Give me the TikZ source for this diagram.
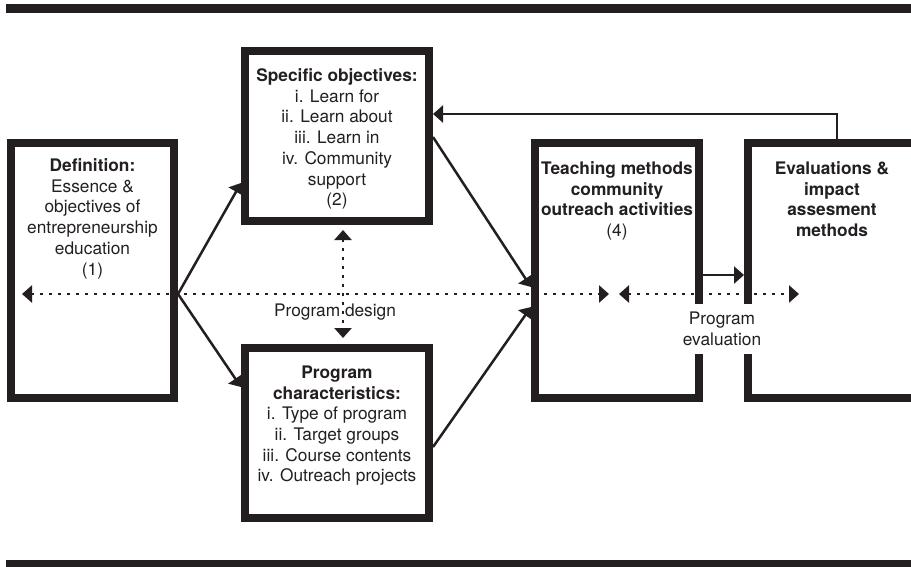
\documentclass[tikz,border=0pt]{standalone}
\usepackage{fontspec}
\setmainfont{TeX Gyre Heros}
\usetikzlibrary{arrows.meta,calc}
\definecolor{ink}{RGB}{35,31,32}
\tikzset{
  headtri/.tip={Triangle[length=10pt,width=17pt]},
  box/.style={rectangle,draw=ink,line width=8pt,fill=white,inner sep=0pt},
  boxtext/.style={anchor=north,align=center,inner sep=0pt,text=ink,
    font=\fontsize{17.3}{20.7}\selectfont},
  plaintext/.style={align=center,inner sep=0pt,text=ink,
    font=\fontsize{17.3}{20.7}\selectfont},
  ln/.style={draw=ink,line width=2.5pt},
  dots/.style={draw=ink,line width=2.5pt,dash pattern=on 2.5pt off 6.5pt},
}
\begin{document}
\begin{tikzpicture}[x=1pt,y=-1pt]
\useasboundingbox (0,0) rectangle (911,566);
\clip (0,0) rectangle (911,566);

% rules above and below
\fill[ink] (6,4) rectangle (920,13);
\fill[ink] (6,560) rectangle (920,572);

% boxes
\node[box,minimum width=163pt,minimum height=255pt] (b1) at (92.5,270.5) {};
\node[box,minimum width=184pt,minimum height=170pt] (b2) at (337,136) {};
\node[box,minimum width=184pt,minimum height=170pt] (b3) at (337,433) {};
\node[box,minimum width=164pt,minimum height=255pt] (b4) at (617,270.5) {};
\node[box,minimum width=168pt,minimum height=255pt] (b5) at (832,270.5) {};

% box texts
\node[boxtext] (t1) at (92.5,158.5) {\textbf{Definition:}\\Essence \&\\objectives of\\entrepreneurship\\education\\(1)};
\node[boxtext] (t2) at (337,68.5) {\textbf{Specific objectives:}\\i. Learn for\\ii. Learn about\\iii. Learn in\\iv. Community\\support\\(2)};
\node[boxtext] (t3) at (337,365.5) {\textbf{Program}\\\textbf{characteristics:}\\i. Type of program\\ii. Target groups\\iii. Course contents\\iv. Outreach projects};
\node[boxtext] (t4) at (617,161.5) {\textbf{Teaching methods}\\\textbf{community}\\\textbf{outreach activities}\\(4)};
\node[boxtext] (t5) at (832,161.5) {\textbf{Evaluations \&}\\\textbf{impact}\\\textbf{assesment}\\\textbf{methods}};

% connector end points
\coordinate (hub) at ([yshift=-23.5pt]b1.east);
\coordinate (dl) at (22,294);
\coordinate (dr) at (609,294);
\coordinate (el) at (619,294);
\coordinate (er) at (799,294);
\coordinate (vu) at ([shift={(6,5)}]b2.south);
\coordinate (vd) at ([shift={(6,-6)}]b3.north);

% solid connectors
\draw[ln,-headtri] (hub) -- ([yshift=-47pt]b2.west);
\draw[ln,-headtri] (hub) -- ([yshift=46pt]b3.west);
\draw[ln,-headtri] ([yshift=-1pt]b2.east) -- ([yshift=-16.5pt]b4.west);
\draw[ln,-headtri] ([yshift=-14pt]b3.east) -- ([yshift=-36.5pt]b4.west);
\draw[ln,-headtri] ([yshift=-4.5pt]b4.east) -- ([yshift=-4.5pt]b5.west);
\draw[ln,-headtri] ([xshift=5pt]b5.north) |- ([yshift=22pt]b2.east);

% design label and dotted connectors
\node[plaintext] (pd) at (335,312) {Program design};
\draw[dots,headtri-headtri] (dl) -- (dr);
\draw[dots,headtri-headtri] (el) -- (er);
\draw[dots,headtri-headtri] (vu) -- (vd);

% evaluation label over the box borders
\node[plaintext,fill=white,inner xsep=2pt,inner ysep=8pt] (pe) at (722,329) {Program\\evaluation};
\end{tikzpicture}
\end{document}
